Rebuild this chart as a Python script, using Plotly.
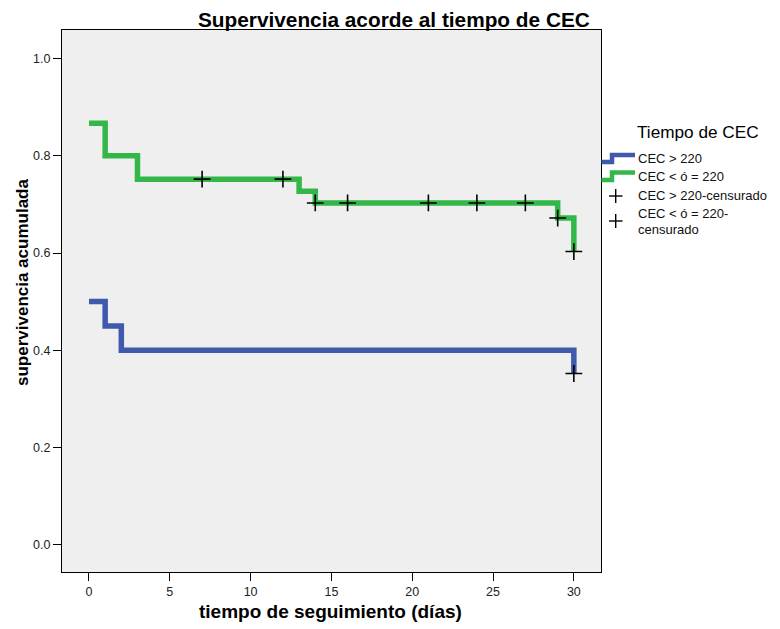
import plotly.graph_objects as go

# ---- data ----
green_t = [0, 1, 3, 13, 14, 29, 30]
green_s = [0.867, 0.80, 0.752, 0.727, 0.703, 0.672, 0.603]
blue_t = [0, 1, 2, 30]
blue_s = [0.50, 0.45, 0.40, 0.352]
green_cens_t = [7, 12, 14, 16, 21, 24, 27, 29, 30]
green_cens_s = [0.752, 0.752, 0.703, 0.703, 0.703, 0.703, 0.703, 0.672, 0.603]
blue_cens_t = [30]
blue_cens_s = [0.352]
x_ticks = [0, 5, 10, 15, 20, 25, 30]
y_ticks = [0.0, 0.2, 0.4, 0.6, 0.8, 1.0]

GREEN = "#34b749"
BLUE = "#3f59ab"
FONT = "Arial, Liberation Sans, sans-serif"

W, H = 780, 629
L, R, T, B = 62, 179, 30, 57
PW, PH = W - L - R, H - T - B


def px(X):
    return (X - L) / PW


def py(Y):
    return (H - B - Y) / PH


fig = go.Figure()
fig.add_trace(go.Scatter(x=blue_t, y=blue_s, mode="lines", line=dict(color=BLUE, width=5.5, shape="hv"),
                         name="CEC > 220", showlegend=False))
fig.add_trace(go.Scatter(x=green_t, y=green_s, mode="lines", line=dict(color=GREEN, width=5.5, shape="hv"),
                         name="CEC < ó = 220", showlegend=False))
fig.add_trace(go.Scatter(x=blue_cens_t, y=blue_cens_s, mode="markers",
                         marker=dict(symbol="cross-thin", size=12, line=dict(color="black", width=1.6)),
                         name="CEC > 220-censurado", showlegend=False))
fig.add_trace(go.Scatter(x=green_cens_t, y=green_cens_s, mode="markers",
                         marker=dict(symbol="cross-thin", size=12, line=dict(color="black", width=1.6)),
                         name="CEC < ó = 220-censurado", showlegend=False))

shapes = []
# legend step icons
def step_icon(ylow, yhigh, color):
    path = (f"M {px(601.5)},{py(ylow)} L {px(612)},{py(ylow)} L {px(612)},{py(yhigh)} "
            f"L {px(635)},{py(yhigh)}")
    return dict(type="path", xref="paper", yref="paper", path=path,
                line=dict(color=color, width=4.5), layer="above")

shapes.append(step_icon(162, 155, BLUE))
shapes.append(step_icon(180, 172.5, GREEN))
for cy in (196, 221):
    shapes.append(dict(type="line", xref="paper", yref="paper", x0=px(609), x1=px(622.5), y0=py(cy), y1=py(cy),
                       line=dict(color="black", width=1.4)))
    shapes.append(dict(type="line", xref="paper", yref="paper", x0=px(615.7), x1=px(615.7), y0=py(cy - 7),
                       y1=py(cy + 7), line=dict(color="black", width=1.4)))

ann = []
ann.append(dict(text="<b>Supervivencia acorde al tiempo de CEC</b>", x=px(394), y=py(19.5), xref="paper",
                yref="paper", xanchor="center", yanchor="middle", showarrow=False,
                font=dict(family=FONT, size=20.8, color="black")))
ann.append(dict(text="<b>tiempo de seguimiento (días)</b>", x=px(330.5), y=py(611.5), xref="paper",
                yref="paper", xanchor="center", yanchor="middle", showarrow=False,
                font=dict(family=FONT, size=19, color="black")))
ann.append(dict(text="<b>supervivencia acumulada</b>", x=px(22), y=py(283), xref="paper",
                yref="paper", xanchor="center", yanchor="middle", showarrow=False, textangle=-90,
                font=dict(family=FONT, size=17, color="black")))
ann.append(dict(text="Tiempo de CEC", x=px(635), y=py(132), xref="paper", yref="paper",
                xanchor="left", yanchor="middle", showarrow=False,
                font=dict(family=FONT, size=17.2, color="black")))
for txt, yy in [("CEC > 220", 158.5), ("CEC < ó = 220", 176.5), ("CEC > 220-censurado", 196),
                ("CEC < ó = 220-", 213), ("censurado", 229)]:
    ann.append(dict(text=txt, x=px(636), y=py(yy), xref="paper", yref="paper",
                    xanchor="left", yanchor="middle", showarrow=False,
                    font=dict(family=FONT, size=13, color="#111")))

fig.update_layout(
    width=W, height=H,
    margin=dict(l=L, r=R, t=T, b=B, pad=0),
    paper_bgcolor="white",
    plot_bgcolor="#efefef",
    shapes=shapes,
    annotations=ann,
    showlegend=False,
    font=dict(family=FONT, color="#222"),
)
fig.update_xaxes(range=[-1.67, 31.68], tickvals=x_ticks, ticktext=[str(v) for v in x_ticks],
                 ticks="outside", ticklen=8, tickwidth=1.3, tickcolor="black",
                 showline=True, linecolor="black", linewidth=1.3, mirror=True,
                 showgrid=False, zeroline=False, tickfont=dict(size=12.5, color="#222"))
fig.update_yaxes(range=[-0.0565, 1.059], tickvals=y_ticks, ticktext=[f"{v:.1f}" for v in y_ticks],
                 ticks="outside", ticklen=8, tickwidth=1.3, tickcolor="black",
                 showline=True, linecolor="black", linewidth=1.3, mirror=True,
                 showgrid=False, zeroline=False, tickfont=dict(size=12.5, color="#222"))

fig.write_html("out.html")
